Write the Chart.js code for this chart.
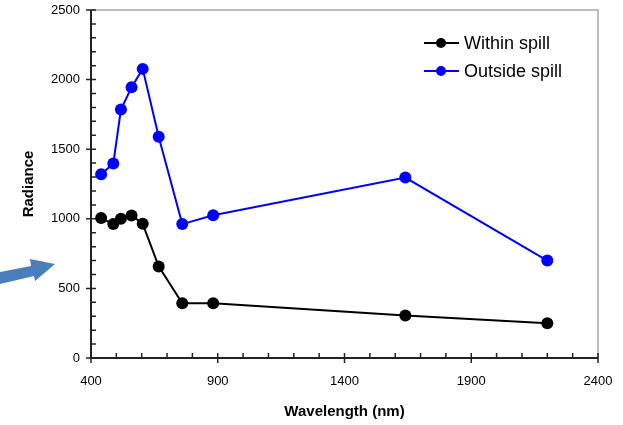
<!DOCTYPE html>
<html>
<head>
<meta charset="utf-8">
<script src="https://cdn.jsdelivr.net/npm/chart.js@4/dist/chart.umd.min.js"></script>
<style>
html, body { margin: 0; padding: 0; background: #fff; }
</style>
</head>
<body>
<canvas id="c" width="623" height="425"></canvas>
<script>
// values
var wavelengths = [440, 488, 518, 560, 604, 667, 760, 882, 1640, 2200]
var withinSpill = [1005, 962, 1000, 1024, 964, 658, 393, 393, 305, 250]
var outsideSpill = [1320, 1398, 1785, 1945, 2077, 1590, 962, 1025, 1296, 700]
var xTicks = [400, 900, 1400, 1900, 2400]
var yTicks = [0, 500, 1000, 1500, 2000, 2500]

function toPoints(xs, ys) {
    return xs.map(function(x, i) {
        return { x: x, y: ys[i] }
    })
}

var font = 'Liberation Sans, Arial, sans-serif'

// draws the frame, axis lines and major/minor tick marks like the excel original
var axesPlugin = {
    id: 'axes',
    beforeDatasetsDraw: function(chart) {
        var ctx = chart.ctx
        var a = chart.chartArea
        var xs = chart.scales.x
        var ys = chart.scales.y
        ctx.save()
        ctx.strokeStyle = '#a6a6a6'
        ctx.lineWidth = 1.5
        ctx.beginPath()
        ctx.moveTo(a.left, a.top)
        ctx.lineTo(a.right, a.top)
        ctx.lineTo(a.right, a.bottom)
        ctx.stroke()

        ctx.strokeStyle = '#222'
        ctx.lineWidth = 2
        ctx.beginPath()
        ctx.moveTo(a.left, a.top)
        ctx.lineTo(a.left, a.bottom)
        ctx.lineTo(a.right, a.bottom)
        ctx.stroke()

        ctx.lineWidth = 1.5
        ctx.beginPath()
        for (var v = 0; v <= 2500; v += 100) {
            var y = ys.getPixelForValue(v)
            var major = v % 500 == 0
            ctx.moveTo(a.left - (major ? 5 : 0), y)
            ctx.lineTo(a.left + 5, y)
        }
        for (var w = 400; w <= 2400; w += 100) {
            var x = xs.getPixelForValue(w)
            var majorX = (w - 400) % 500 == 0
            ctx.moveTo(x, a.bottom + (majorX ? 5 : 0))
            ctx.lineTo(x, a.bottom - 5)
        }
        ctx.stroke()
        ctx.restore()
    },
    afterDraw: function(chart) {
        var ctx = chart.ctx
        ctx.save()
        // legend, line + marker style
        var ly = [43, 71]
        chart.data.datasets.forEach(function(ds, i) {
            ctx.strokeStyle = ds.borderColor
            ctx.lineWidth = 2
            ctx.beginPath()
            ctx.moveTo(424, ly[i])
            ctx.lineTo(459, ly[i])
            ctx.stroke()
            ctx.fillStyle = ds.backgroundColor
            ctx.beginPath()
            ctx.arc(441, ly[i], 5, 0, Math.PI * 2)
            ctx.fill()
            ctx.fillStyle = '#000'
            ctx.font = '18px ' + font
            ctx.textBaseline = 'middle'
            ctx.textAlign = 'left'
            ctx.fillText(ds.label, 464, ly[i] + 1)
        })

        // blue arrow pointing at the chart from the left
        ctx.fillStyle = '#4a7ebb'
        ctx.beginPath()
        ctx.moveTo(0, 272)
        ctx.lineTo(31, 266)
        ctx.lineTo(30, 259)
        ctx.lineTo(55, 264)
        ctx.lineTo(35, 281)
        ctx.lineTo(34, 276)
        ctx.lineTo(0, 284)
        ctx.closePath()
        ctx.fill()
        ctx.restore()
    }
}

function plain(v) {
    return String(v)
}

new Chart(document.getElementById('c'), {
    type: 'line',
    data: {
        datasets: [{
            label: 'Within spill',
            data: toPoints(wavelengths, withinSpill),
            borderColor: '#000000',
            backgroundColor: '#000000',
            borderWidth: 2,
            pointRadius: 6,
            pointBorderWidth: 0,
            tension: 0
        }, {
            label: 'Outside spill',
            data: toPoints(wavelengths, outsideSpill),
            borderColor: '#0000ff',
            backgroundColor: '#0000ff',
            borderWidth: 2,
            pointRadius: 6,
            pointBorderWidth: 0,
            tension: 0
        }]
    },
    options: {
        responsive: false,
        animation: false,
        layout: { padding: { top: 10, right: 25, left: 0, bottom: 0 } },
        plugins: {
            legend: { display: false },
            tooltip: { enabled: false }
        },
        scales: {
            x: {
                type: 'linear',
                min: 400,
                max: 2400,
                afterBuildTicks: function(scale) {
                    scale.ticks = xTicks.map(function(v) { return { value: v } })
                },
                afterFit: function(scale) {
                    scale.height = 67
                    scale.paddingLeft = 0
                    scale.paddingRight = 0
                },
                grid: { display: false, drawTicks: false },
                border: { display: false },
                ticks: { padding: 16, color: '#000', font: { family: font, size: 13 }, callback: plain },
                title: {
                    display: true,
                    text: 'Wavelength (nm)',
                    color: '#000',
                    font: { family: font, size: 15, weight: 'bold' },
                    padding: { top: 0, bottom: 4 }
                }
            },
            y: {
                min: 0,
                max: 2500,
                afterBuildTicks: function(scale) {
                    scale.ticks = yTicks.map(function(v) { return { value: v } })
                },
                afterFit: function(scale) {
                    scale.width = 91
                    scale.paddingTop = 0
                    scale.paddingBottom = 0
                },
                grid: { display: false, drawTicks: false },
                border: { display: false },
                ticks: { padding: 11, color: '#000', font: { family: font, size: 13 }, callback: plain },
                title: {
                    display: true,
                    text: 'Radiance',
                    color: '#000',
                    font: { family: font, size: 15, weight: 'bold' },
                    padding: { top: 20, bottom: 0 }
                }
            }
        }
    },
    plugins: [axesPlugin]
})
</script>
</body>
</html>
